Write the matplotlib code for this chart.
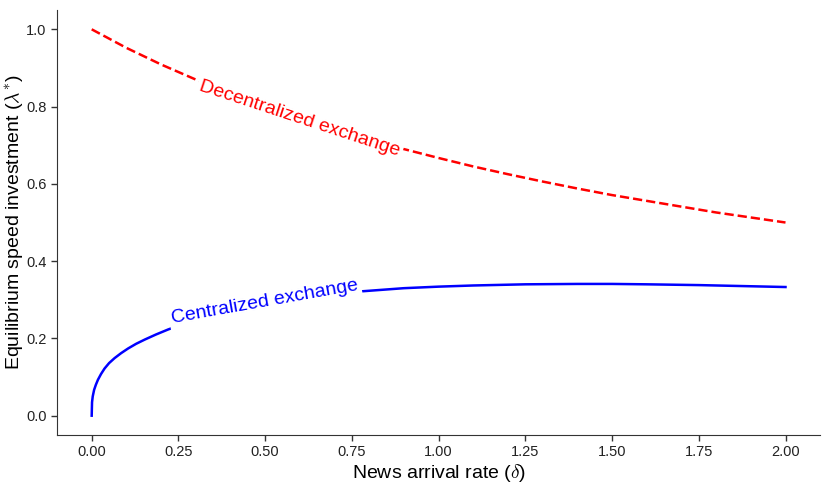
import numpy as np
import matplotlib
matplotlib.use("Agg")
import matplotlib.pyplot as plt

plt.rcParams['font.family'] = ['Liberation Sans', 'DejaVu Sans']
plt.rcParams['mathtext.fontset'] = 'cm'

# decentralized exchange
delta_dec = [0.0, 0.1, 0.2, 0.3, 0.4, 0.5, 0.6, 0.7, 0.8, 0.9, 1.0,
             1.1, 1.2, 1.3, 1.4, 1.5, 1.6, 1.7, 1.8, 1.9, 2.0]
lam_dec = [1.0, 0.952, 0.909, 0.870, 0.833, 0.800, 0.769, 0.741, 0.714, 0.690, 0.667,
           0.645, 0.625, 0.606, 0.588, 0.571, 0.556, 0.541, 0.526, 0.513, 0.500]

# centralized exchange
delta_cen = [0.0, 0.001, 0.003, 0.007, 0.012, 0.018, 0.027, 0.037, 0.05, 0.066, 0.085,
             0.105, 0.128, 0.153, 0.185, 0.22, 0.26, 0.3, 0.35, 0.4, 0.45, 0.5,
             0.55, 0.6, 0.7, 0.78, 0.9, 1.0, 1.1, 1.25, 1.4, 1.5, 1.6, 1.75, 1.9, 2.0]
lam_cen = [0.0, 0.035, 0.050, 0.067, 0.080, 0.093, 0.108, 0.122, 0.136, 0.149, 0.162,
           0.174, 0.186, 0.197, 0.210, 0.223, 0.236, 0.248, 0.261, 0.273, 0.284, 0.293,
           0.300, 0.307, 0.317, 0.322, 0.330, 0.334, 0.337, 0.340, 0.341, 0.341, 0.340, 0.338, 0.335, 0.333]

fig = plt.figure(figsize=(8.31, 4.88), dpi=100)
ax = fig.add_axes([0.0686, 0.1086, 0.9184, 0.8709])

ax.plot(delta_dec, lam_dec, color='red', ls='--', lw=1.8)
ax.plot(delta_cen, lam_cen, color='blue', lw=1.8)

ax.set_xlim(-0.1, 2.1)
ax.set_ylim(-0.05, 1.05)
ax.set_xticks([0.0, 0.25, 0.5, 0.75, 1.0, 1.25, 1.5, 1.75, 2.0])
ax.set_xticklabels(["0.00", "0.25", "0.50", "0.75", "1.00", "1.25", "1.50", "1.75", "2.00"])
ax.set_yticks([0.0, 0.2, 0.4, 0.6, 0.8, 1.0])
ax.set_yticklabels(["0.0", "0.2", "0.4", "0.6", "0.8", "1.0"])
ax.tick_params(labelsize=10.5, length=4, width=1, colors='#333333', labelcolor='#222222')
for s in ['top', 'right']:
    ax.spines[s].set_visible(False)
for s in ['left', 'bottom']:
    ax.spines[s].set_color('#333333')

ax.set_xlabel(r"News arrival rate ($\delta$)", fontsize=14, labelpad=2)
ax.set_ylabel(r"Equilibrium speed investment ($\lambda^{*}$)", fontsize=14, labelpad=1)


def inline_label(x, xs, ys, text, color):
    y = np.interp(x, xs, ys)
    p1 = ax.transData.transform((x - 0.05, np.interp(x - 0.05, xs, ys)))
    p2 = ax.transData.transform((x + 0.05, np.interp(x + 0.05, xs, ys)))
    ang = np.degrees(np.arctan2(p2[1] - p1[1], p2[0] - p1[0]))
    ax.text(x, y, text, color=color, fontsize=14,
            rotation=ang, rotation_mode='anchor', ha='center', va='center',
            bbox=dict(facecolor='white', edgecolor='none', pad=2))


inline_label(0.6, delta_dec, lam_dec, "Decentralized exchange", 'red')
inline_label(0.5, delta_cen, lam_cen, "Centralized exchange", 'blue')

fig.savefig("out.png", dpi=100)
